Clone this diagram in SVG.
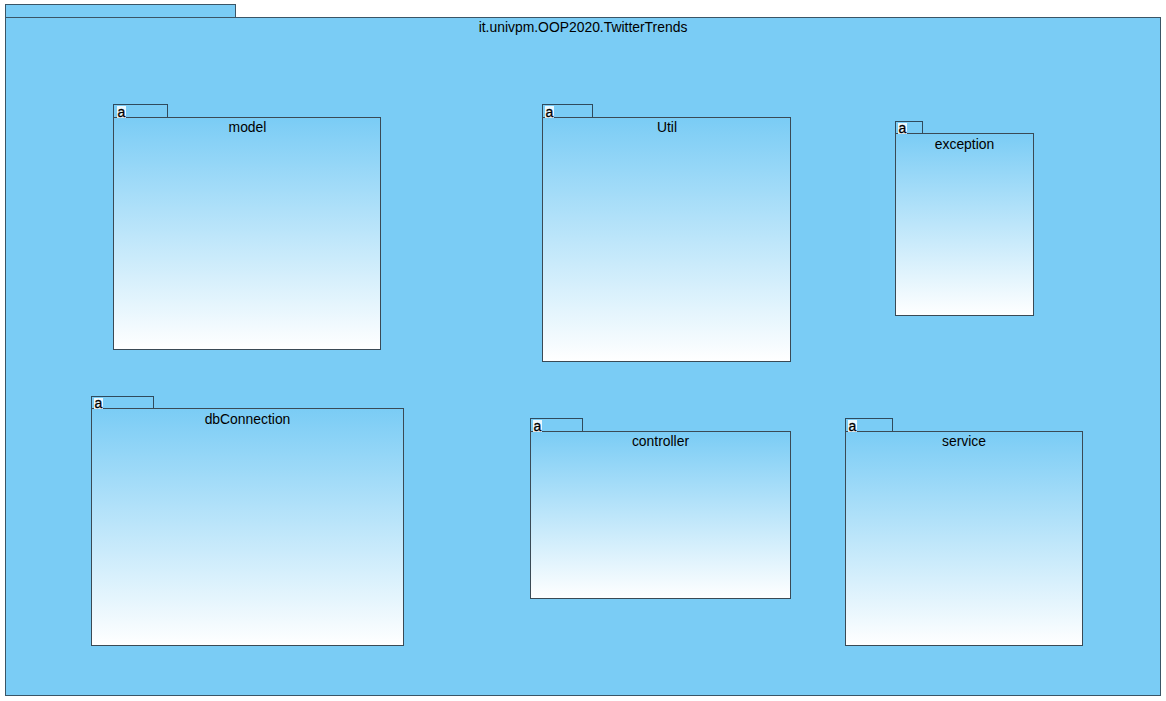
<svg xmlns="http://www.w3.org/2000/svg" width="1166" height="701" viewBox="0 0 1166 701">
<style>
text{font-family:"Liberation Sans",Arial,sans-serif;font-size:13.9px;fill:#000;text-anchor:middle}
.o{fill:#7accf5;stroke:#3a5566;stroke-width:1}
.t{fill:#7accf5;stroke:#2f4a5c;stroke-width:1}
.b{fill:url(#g);stroke:#3a4a55;stroke-width:1}
.i{fill:#fff;stroke:none;opacity:.85}
text.a{font-size:14px;font-family:"Liberation Sans",sans-serif;stroke:#000;stroke-width:.3}
</style>
<defs>
<linearGradient id="g" x1="0" y1="0" x2="0" y2="1">
<stop offset="0" stop-color="#7accf5"/>
<stop offset="1" stop-color="#fff"/>
</linearGradient>
</defs>
<rect width="1166" height="701" fill="#fff"/>
<g id="root">
<rect class="o" x="5.5" y="4.5" width="230" height="13"/>
<rect class="o" x="5.5" y="17.5" width="1155" height="678"/>
<text x="583" y="32">it.univpm.OOP2020.TwitterTrends</text>
</g>
<g id="model">
<rect class="t" x="113.5" y="104.5" width="54" height="13"/>
<rect class="b" x="113.5" y="117.5" width="267" height="232"/>
<rect class="i" x="117" y="106" width="9" height="12"/>
<text class="a" x="121.5" y="117">a</text>
<text x="247.5" y="132">model</text>
</g>
<g id="Util">
<rect class="t" x="542.5" y="104.5" width="50" height="13"/>
<rect class="b" x="542.5" y="117.5" width="248" height="244"/>
<rect class="i" x="545" y="106" width="9" height="12"/>
<text class="a" x="549.5" y="117">a</text>
<text x="667" y="132">Util</text>
</g>
<g id="exception">
<rect class="t" x="895.5" y="121.5" width="27" height="12"/>
<rect class="b" x="895.5" y="133.5" width="138" height="182"/>
<rect class="i" x="898" y="123" width="9" height="11"/>
<text class="a" x="902.5" y="133">a</text>
<text x="964.5" y="149">exception</text>
</g>
<g id="dbConnection">
<rect class="t" x="91.5" y="396.5" width="62" height="12"/>
<rect class="b" x="91.5" y="408.5" width="312" height="237"/>
<rect class="i" x="94" y="398" width="9" height="11"/>
<text class="a" x="98.5" y="408">a</text>
<text x="247.5" y="424">dbConnection</text>
</g>
<g id="controller">
<rect class="t" x="530.5" y="418.5" width="52" height="13"/>
<rect class="b" x="530.5" y="431.5" width="260" height="167"/>
<rect class="i" x="533" y="420" width="9" height="12"/>
<text class="a" x="537.5" y="431">a</text>
<text x="660.5" y="446">controller</text>
</g>
<g id="service">
<rect class="t" x="845.5" y="418.5" width="47" height="13"/>
<rect class="b" x="845.5" y="431.5" width="237" height="214"/>
<rect class="i" x="848" y="420" width="9" height="12"/>
<text class="a" x="852.5" y="431">a</text>
<text x="964" y="446">service</text>
</g>
<g id="connectors"></g>
</svg>
